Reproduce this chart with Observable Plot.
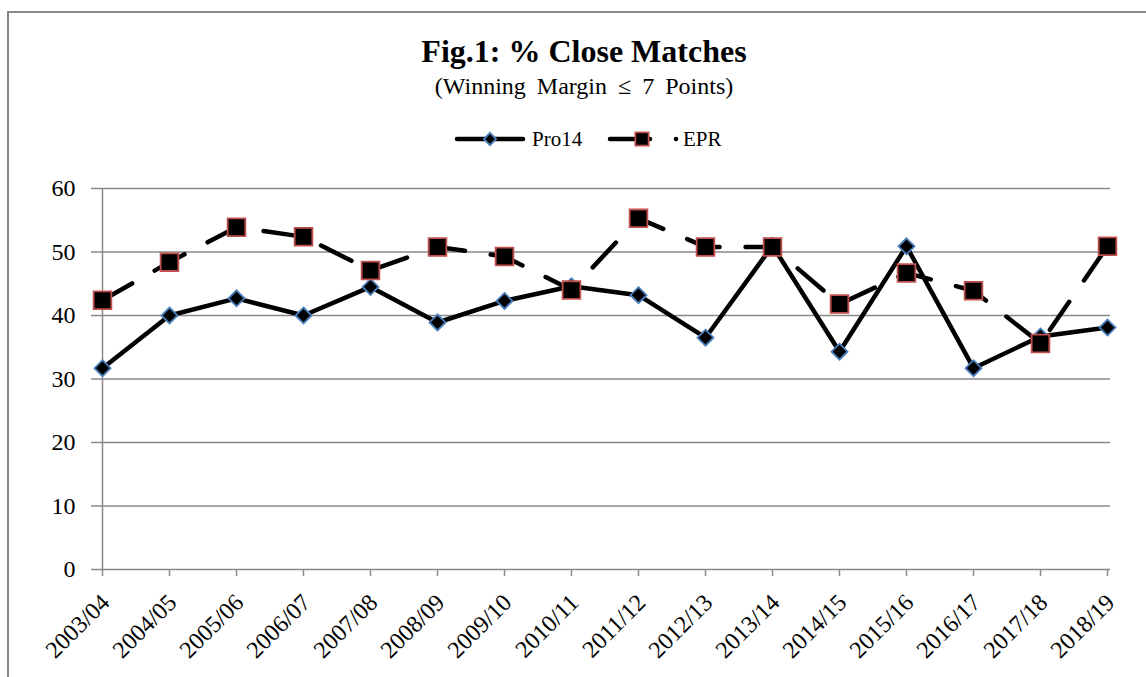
<!DOCTYPE html>
<html>
<head>
<meta charset="utf-8">
<script src="https://cdn.jsdelivr.net/npm/d3@7"></script>
<script src="https://cdn.jsdelivr.net/npm/@observablehq/plot@0.6"></script>
<style>
  html, body { margin: 0; padding: 0; background: #fff; }
  body { width: 1146px; height: 677px; position: relative; overflow: hidden; font-family: "Liberation Serif", "Times New Roman", serif; }
  svg text { font-family: "Liberation Serif", "Times New Roman", serif !important; }
  #frame { position: absolute; left: 7px; top: 11px; width: 1200px; height: 800px; border-left: 2px solid #898989; border-top: 2px solid #898989; }
  #header { position: absolute; left: 0; top: 0; }
  #chart { position: absolute; left: 0; top: 150px; }
</style>
</head>
<body>
<div id="frame"></div>
<svg id="header" width="1146" height="150"></svg>
<div id="chart"></div>
<script>
// ---- data ----
const seasons = ["2003/04","2004/05","2005/06","2006/07","2007/08","2008/09","2009/10","2010/11",
                 "2011/12","2012/13","2013/14","2014/15","2015/16","2016/17","2017/18","2018/19"];
const pro14 = [31.7, 40.0, 42.7, 40.0, 44.5, 38.9, 42.3, 44.6, 43.2, 36.5, 51.0, 34.3, 50.9, 31.7, 36.7, 38.1];
const epr   = [42.4, 48.4, 53.9, 52.4, 47.1, 50.8, 49.3, 44.0, 55.3, 50.8, 50.8, 41.8, 46.7, 43.9, 35.6, 50.9];
const yTicks = [0, 10, 20, 30, 40, 50, 60];
const seriesNames = ["Pro14", "EPR"];
const titleText = "Fig.1: % Close Matches";
const subtitleText = "(Winning Margin \u2264 7 Points)";

const rowsPro = seasons.map((s, i) => ({season: s, value: pro14[i], series: "Pro14"}));
const rowsEpr = seasons.map((s, i) => ({season: s, value: epr[i], series: "EPR"}));

const blue = "#4a7ebb", red = "#c0504d", grid = "#898989";
const dash = "34,26";
const serif = "'Liberation Serif', 'Times New Roman', serif";

// ---- header: title, subtitle, legend ----
const hdr = d3.select("#header");
hdr.append("text").attr("x", 584).attr("y", 62).attr("text-anchor", "middle")
  .style("font-weight", "bold").style("font-size", "32px")
  .text(titleText);
hdr.append("text").attr("x", 584).attr("y", 94).attr("text-anchor", "middle")
  .style("font-size", "24px").style("word-spacing", "5px")
  .text(subtitleText);

const ly = 139;
// Pro14 legend
hdr.append("line").attr("x1", 457).attr("x2", 523).attr("y1", ly).attr("y2", ly)
  .attr("stroke", "#000").attr("stroke-width", 4.5).attr("stroke-linecap", "round");
hdr.append("path").attr("transform", `translate(490,${ly})`)
  .attr("d", d3.symbol(d3.symbolDiamond2, Math.PI * 5.5 * 5.5)())
  .attr("fill", "#000").attr("stroke", blue).attr("stroke-width", 1.8);
hdr.append("text").attr("x", 532).attr("y", ly + 7)
  .style("font-size", "21px").text(seriesNames[0]);
// EPR legend
hdr.append("line").attr("x1", 610).attr("x2", 650).attr("y1", ly).attr("y2", ly)
  .attr("stroke", "#000").attr("stroke-width", 4.5).attr("stroke-linecap", "round");
hdr.append("circle").attr("cx", 676).attr("cy", ly).attr("r", 2.3).attr("fill", "#000");
hdr.append("path").attr("transform", `translate(642,${ly})`)
  .attr("d", d3.symbol(d3.symbolSquare, Math.PI * 7.5 * 7.5)())
  .attr("fill", "#000").attr("stroke", red).attr("stroke-width", 1.8);
hdr.append("text").attr("x", 683).attr("y", ly + 7)
  .style("font-size", "21px").text(seriesNames[1]);

// ---- chart ----
const chart = Plot.plot({
  width: 1146,
  height: 527,
  marginTop: 38,
  marginBottom: 108,
  marginLeft: 98,
  marginRight: 36,
  style: { fontFamily: serif, fontSize: "24px", color: "#000", background: "transparent", overflow: "visible" },
  x: { type: "point", domain: seasons, padding: 0, label: null },
  y: { domain: [0, 60], ticks: yTicks, label: null },
  marks: [
    Plot.gridY(yTicks, { stroke: grid, strokeOpacity: 1, strokeWidth: 1.5 }),
    Plot.ruleX([seasons[0]], { stroke: grid, strokeWidth: 1.5 }),
    Plot.axisY(yTicks, { tickSize: 7, tickPadding: 16, stroke: grid, strokeWidth: 1.5, fontSize: 24, fontFamily: serif, fill: "#000", label: null }),
    // x tick marks
    Plot.axisX(seasons, { tickSize: 7, tickFormat: () => "", stroke: grid, strokeWidth: 1.5, label: null }),
    // x tick labels
    Plot.axisX(seasons, { tickSize: 0, tickRotate: -45, tickPadding: 29, dx: 3, fontSize: 24, fontFamily: serif, fill: "#000", label: null }),
    Plot.line(rowsPro, { x: "season", y: "value", stroke: "#000", strokeWidth: 4.5, strokeLinecap: "round", strokeLinejoin: "round" }),
    Plot.dot(rowsPro, { x: "season", y: "value", symbol: "diamond2", r: 7.2, fill: "#000", stroke: blue, strokeWidth: 1.8 }),
    Plot.line(rowsEpr, { x: "season", y: "value", stroke: "#000", strokeWidth: 4.5, strokeLinecap: "round", strokeLinejoin: "round", strokeDasharray: dash }),
    Plot.dot(rowsEpr, { x: "season", y: "value", symbol: "square", r: 10, fill: "#000", stroke: red, strokeWidth: 1.8 })
  ]
});
document.getElementById("chart").appendChild(chart);
</script>
</body>
</html>
